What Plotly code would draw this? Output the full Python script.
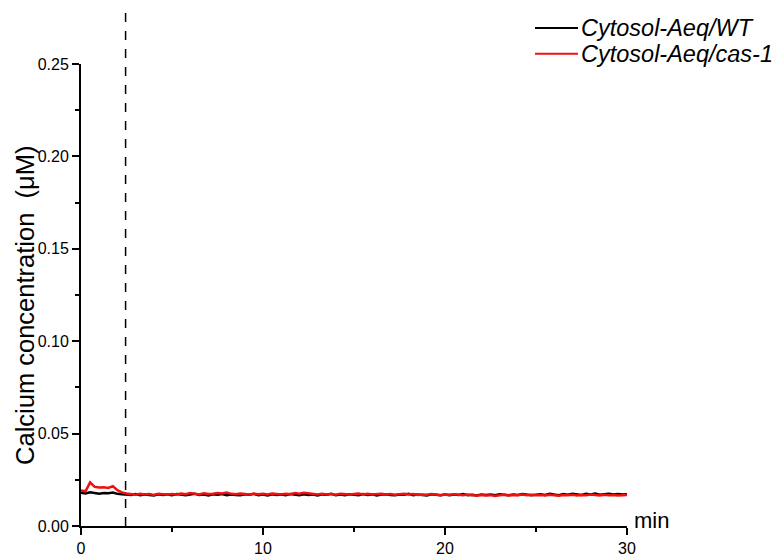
import plotly.graph_objects as go

# ---- data ----
step_min = 0.25
wt = [
0.0180,0.0176,0.0182,0.0178,0.0175,0.0179,0.0177,0.0181,0.0174,0.0172,
0.0170,0.0168,0.0173,0.0166,0.0171,0.0169,0.0165,0.0172,0.0168,0.0170,
0.0167,0.0173,0.0169,0.0166,0.0171,0.0174,0.0168,0.0170,0.0165,0.0172,
0.0169,0.0173,0.0167,0.0171,0.0168,0.0166,0.0172,0.0169,0.0174,0.0167,
0.0170,0.0165,0.0172,0.0168,0.0171,0.0166,0.0173,0.0169,0.0167,0.0172,
0.0168,0.0170,0.0165,0.0171,0.0169,0.0174,0.0167,0.0170,0.0166,0.0172,
0.0169,0.0167,0.0173,0.0168,0.0171,0.0165,0.0170,0.0172,0.0168,0.0166,
0.0171,0.0169,0.0174,0.0167,0.0170,0.0168,0.0165,0.0172,0.0169,0.0167,
0.0171,0.0166,0.0170,0.0168,0.0173,0.0167,0.0169,0.0165,0.0171,0.0168,
0.0170,0.0166,0.0172,0.0169,0.0167,0.0171,0.0168,0.0173,0.0170,0.0166,
0.0169,0.0172,0.0168,0.0174,0.0170,0.0167,0.0173,0.0169,0.0175,0.0171,
0.0168,0.0174,0.0170,0.0176,0.0169,0.0172,0.0175,0.0170,0.0173,0.0171,
0.0172,
]
cas1 = [
0.0192,0.0188,0.0236,0.0212,0.0208,0.0210,0.0206,0.0216,0.0194,0.0182,
0.0176,0.0172,0.0169,0.0174,0.0170,0.0173,0.0168,0.0175,0.0171,0.0169,
0.0173,0.0170,0.0176,0.0172,0.0178,0.0174,0.0171,0.0177,0.0173,0.0175,
0.0179,0.0176,0.0181,0.0174,0.0172,0.0176,0.0173,0.0170,0.0175,0.0172,
0.0174,0.0171,0.0176,0.0173,0.0170,0.0174,0.0172,0.0178,0.0175,0.0180,
0.0176,0.0172,0.0170,0.0174,0.0171,0.0173,0.0169,0.0175,0.0172,0.0170,
0.0173,0.0176,0.0171,0.0174,0.0170,0.0172,0.0175,0.0171,0.0173,0.0169,
0.0172,0.0174,0.0170,0.0173,0.0168,0.0171,0.0169,0.0173,0.0170,0.0167,
0.0171,0.0169,0.0172,0.0168,0.0166,0.0170,0.0167,0.0164,0.0168,0.0165,
0.0167,0.0163,0.0166,0.0169,0.0165,0.0168,0.0166,0.0170,0.0167,0.0169,
0.0166,0.0168,0.0165,0.0169,0.0167,0.0164,0.0168,0.0166,0.0169,0.0165,
0.0168,0.0166,0.0170,0.0167,0.0165,0.0169,0.0166,0.0168,0.0165,0.0167,
0.0168,
]
minutes = [i * step_min for i in range(len(wt))]
treatment_time = 2.45
series_names = ["Cytosol-Aeq/WT", "Cytosol-Aeq/cas-1"]
series_colors = ["black", "#ee1111"]
x_ticks = [0, 10, 20, 30]
y_ticks = [0.00, 0.05, 0.10, 0.15, 0.20, 0.25]
y_tick_text = ["0.00", "0.05", "0.10", "0.15", "0.20", "0.25"]

FONT = "Liberation Sans, Arial, sans-serif"

fig = go.Figure()
for name, vals, col in zip(series_names, [wt, cas1], series_colors):
    fig.add_trace(go.Scatter(x=minutes, y=vals, mode="lines", name=name,
                             line=dict(color=col, width=2.5), showlegend=False))

# dashed marker line extending above the plot
fig.add_shape(type="line", xref="x", yref="paper", x0=treatment_time, x1=treatment_time,
              y0=0, y1=1.117, line=dict(color="black", width=1.5, dash="dash"))

# manual legend (to match long line samples)
legend_rows_y = [1.078, 1.022]
for name, col, ly in zip(series_names, series_colors, legend_rows_y):
    fig.add_shape(type="line", xref="paper", yref="paper", x0=0.8315, x1=0.9103,
                  y0=ly, y1=ly, line=dict(color=col, width=2))
    fig.add_annotation(text="<i>%s</i>" % name, xref="paper", yref="paper",
                       x=0.912, y=ly, xanchor="left", yanchor="middle", showarrow=False,
                       font=dict(size=23.5, color="black", family=FONT))

fig.add_annotation(text="min", xref="paper", yref="paper", x=1.009, y=0.012,
                   xanchor="left", yanchor="middle", showarrow=False,
                   font=dict(size=22, color="black", family=FONT))
fig.add_annotation(text="Calcium concentration  (μM)", xref="paper", yref="paper",
                   x=-0.103, y=0.478, textangle=-90, xanchor="center", yanchor="middle",
                   showarrow=False, font=dict(size=25.5, color="black", family=FONT))

fig.update_layout(
    width=779, height=556,
    margin=dict(l=81, r=152, t=64, b=30, autoexpand=False),
    plot_bgcolor="white", paper_bgcolor="white",
    font=dict(family=FONT, color="black", size=16),
    showlegend=False,
    xaxis=dict(range=[0, 30], tickvals=x_ticks, ticktext=[str(v) for v in x_ticks],
               showgrid=False, zeroline=False, showline=True, linecolor="black", linewidth=2,
               ticks="outside", ticklen=7, tickwidth=1.5, tickcolor="black",
               minor=dict(dtick=5, ticks="outside", ticklen=4, tickwidth=1.5, tickcolor="black"),
               tickfont=dict(size=16), automargin=False),
    yaxis=dict(range=[0, 0.25], tickvals=y_ticks, ticktext=y_tick_text,
               showgrid=False, zeroline=False, showline=True, linecolor="black", linewidth=2,
               ticks="outside", ticklen=7, tickwidth=1.5, tickcolor="black",
               minor=dict(dtick=0.025, ticks="outside", ticklen=4, tickwidth=1.5, tickcolor="black"),
               tickfont=dict(size=16), automargin=False),
)

fig.write_html("out.html")
